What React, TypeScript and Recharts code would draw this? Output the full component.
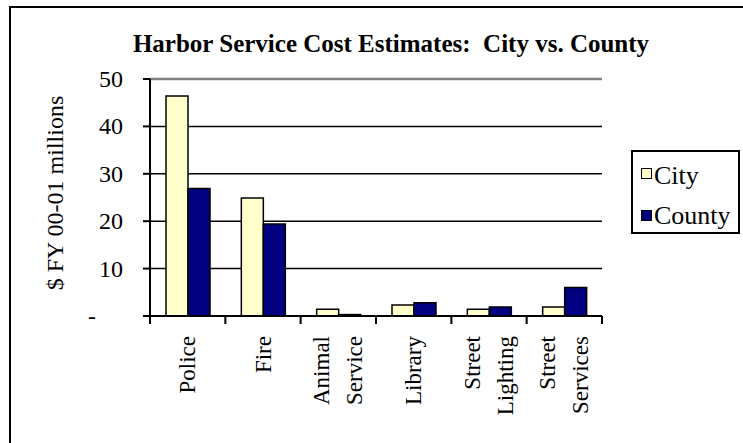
import React from "react";
import {
  BarChart,
  Bar,
  XAxis,
  YAxis,
  CartesianGrid,
  ReferenceLine,
  Legend,
  Customized,
} from "recharts";

const categories = ["Police", "Fire", "Animal Service", "Library", "Street Lighting", "Street Services"];
const cityValues = [46.4, 24.9, 1.4, 2.3, 1.4, 1.9];
const countyValues = [26.9, 19.4, 0.3, 2.8, 1.9, 6.0];
const yTicks = [0, 10, 20, 30, 40, 50];
const seriesNames = ["City", "County"];
const seriesColors = ["#FFFFCC", "#000080"];

const data = categories.map((c, i) => ({ name: c, City: cityValues[i], County: countyValues[i] }));

const FONT = '"Liberation Serif", "Times New Roman", serif';
const textStyle = { fontFamily: FONT };

const YTick = (props: any) => {
  const { x, y, payload } = props;
  if (payload.value === 0) {
    return (
      <text x={x - 27} y={y} textAnchor="end" dominantBaseline="central" style={textStyle} fontFamily={FONT} fontSize={24} fill="#000">
        -
      </text>
    );
  }
  return (
    <text x={x} y={y} textAnchor="end" dominantBaseline="central" style={textStyle} fontFamily={FONT} fontSize={24} fill="#000">
      {payload.value}
    </text>
  );
};

const XTick = (props: any) => {
  const { x, y, payload, index } = props;
  const half = payload && typeof payload.offset === "number" && payload.offset > 0 ? payload.offset : 452 / 12;
  const lines = String(payload.value).split(" ");
  const n = lines.length;
  const ty = y + 20;
  return (
    <g>
      <line x1={x - half} y1={y} x2={x - half} y2={y + 8} stroke="#000" strokeWidth={2} />
      {index === categories.length - 1 && (
        <line x1={x + half} y1={y} x2={x + half} y2={y + 8} stroke="#000" strokeWidth={2} />
      )}
      {lines.map((l, i) => {
        const lx = x + (i - (n - 1) / 2) * 33;
        return (
          <text
            key={i}
            x={lx}
            y={ty}
            transform={`rotate(-90, ${lx}, ${ty})`}
            textAnchor="end"
            dominantBaseline="central"
            style={textStyle}
            fontFamily={FONT}
            fontSize={23}
            fill="#000"
          >
            {l}
          </text>
        );
      })}
    </g>
  );
};

const LegendContent = () => (
  <div
    style={{
      position: "relative",
      width: 109,
      height: 84,
      border: "2px solid #000",
      boxSizing: "border-box",
      background: "#fff",
      fontFamily: FONT,
      fontSize: 26,
      lineHeight: "26px",
    }}
  >
    {seriesNames.map((s, i) => (
      <React.Fragment key={s}>
        <div
          style={{
            position: "absolute",
            left: 8,
            top: 16 + i * 42,
            width: 11,
            height: 11,
            boxSizing: "border-box",
            border: "1.5px solid #000",
            background: seriesColors[i],
          }}
        />
        <span style={{ position: "absolute", left: 21, top: 11 + i * 40, whiteSpace: "nowrap" }}>{s}</span>
      </React.Fragment>
    ))}
  </div>
);

const Title = () => (
  <g>
    <text x={391} y={52} textAnchor="middle" style={textStyle} fontFamily={FONT} fontWeight="bold" fontSize={25} fill="#000">
      Harbor Service Cost Estimates:{"\u00A0 "}City vs. County
    </text>
    <text
      x={55}
      y={193}
      transform="rotate(-90, 55, 193)"
      textAnchor="middle"
      dominantBaseline="central"
      style={textStyle}
      fontFamily={FONT}
      fontSize={24}
      fill="#000"
    >
      $ FY 00-01 millions
    </text>
  </g>
);

export default function App() {
  return (
    <div style={{ position: "absolute", left: 0, top: 0, width: 743, height: 443, overflow: "hidden", background: "#fff" }}>
      <div
        style={{
          position: "absolute",
          left: 9,
          top: 6,
          width: 800,
          height: 500,
          border: "2px solid #000",
          boxSizing: "border-box",
        }}
      />
      <div style={{ position: "absolute", left: 0, top: 0 }}>
        <BarChart
          width={743}
          height={443}
          data={data}
          margin={{ top: 79, right: 141, left: 0, bottom: 0 }}
          barSize={22}
          barGap={0}
          style={{ fontFamily: FONT }}
        >
          <CartesianGrid vertical={false} stroke="#000" strokeWidth={1.5} />
          <XAxis
            dataKey="name"
            height={127}
            tickLine={false}
            tickSize={0}
            tickMargin={0}
            axisLine={{ stroke: "#000", strokeWidth: 2 }}
            tick={(p: any) => <XTick {...p} />}
            interval={0}
          />
          <YAxis
            width={150}
            domain={[0, 50]}
            ticks={yTicks}
            tickSize={7}
            tickMargin={20}
            axisLine={{ stroke: "#000", strokeWidth: 2 }}
            tickLine={{ stroke: "#000", strokeWidth: 2 }}
            tick={(p: any) => <YTick {...p} />}
            interval={0}
          />
          <YAxis
            yAxisId="right"
            orientation="right"
            width={0}
            domain={[0, 50]}
            tick={false}
            tickLine={false}
            axisLine={{ stroke: "#808080", strokeWidth: 2 }}
          />
          <ReferenceLine y={50} stroke="#808080" strokeWidth={2.5} />
          <Bar dataKey="City" fill={seriesColors[0]} stroke="#000" strokeWidth={1.5} isAnimationActive={false} />
          <Bar dataKey="County" fill={seriesColors[1]} stroke="#000" strokeWidth={1.5} isAnimationActive={false} />
          <Legend
            layout="horizontal"
            align="center"
            verticalAlign="middle"
            content={() => <LegendContent />}
            wrapperStyle={{ left: 631, top: 150, width: 109, height: 84 }}
          />
          <Customized component={Title} />
        </BarChart>
      </div>
    </div>
  );
}
